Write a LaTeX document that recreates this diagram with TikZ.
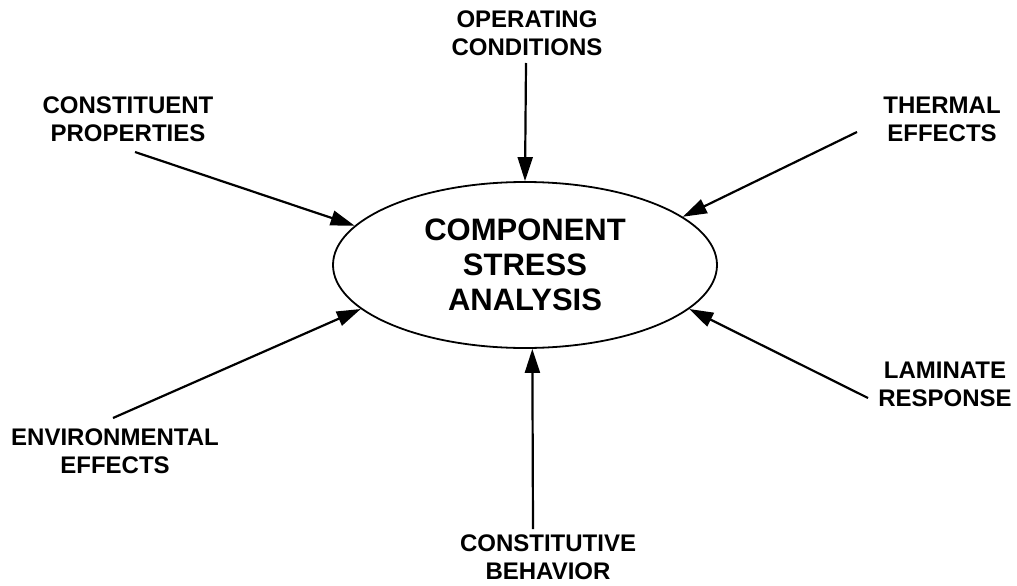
\documentclass[tikz,border=0pt]{standalone}
\usepackage{fontspec}
\setmainfont{Liberation Sans}
\usetikzlibrary{shapes.geometric,arrows.meta}
\begin{document}
\begin{tikzpicture}[x=1pt,y=-1pt,
  lbl/.style={align=center,inner sep=0pt,font=\fontsize{24}{28}\selectfont\bfseries},
  hub/.style={ellipse,draw,line width=1.8pt,minimum width=384pt,minimum height=166pt,inner sep=0pt,
    align=center,font=\fontsize{31}{35}\selectfont\bfseries},
  feed/.style={line width=2.2pt,-{Triangle[length=24pt,width=15pt]}}]
\useasboundingbox (0,0) rectangle (1017,586);
\node[hub] (c) at (525,265) {COMPONENT\\STRESS\\ANALYSIS};
\node[lbl] (oc) at (527,33.5) {OPERATING\\CONDITIONS};
\node[lbl] (cp) at (128,119) {CONSTITUENT\\PROPERTIES};
\node[lbl] (te) at (942,119) {THERMAL\\EFFECTS};
\node[lbl] (ee) at (115,451.5) {ENVIRONMENTAL\\EFFECTS};
\node[lbl] (lr) at (945,384) {LAMINATE\\RESPONSE};
\node[lbl] (cb) at (548,557) {CONSTITUTIVE\\BEHAVIOR};
\coordinate (toc) at (526,63);
\coordinate (tcp) at (135,152);
\coordinate (tte) at (857,132);
\coordinate (tee) at (113,418);
\coordinate (tlr) at (868,398);
\coordinate (tcb) at (533,529);
\draw[feed] (toc) -- (c.90);
\draw[feed] (tcp) -- (c.167.7);
\draw[feed] (tte) -- (c.17.7);
\draw[feed] (tee) -- (c.195.3);
\draw[feed] (tlr) -- (c.345.6);
\draw[feed] (tcb) -- (c.275.4);
\end{tikzpicture}
\end{document}
